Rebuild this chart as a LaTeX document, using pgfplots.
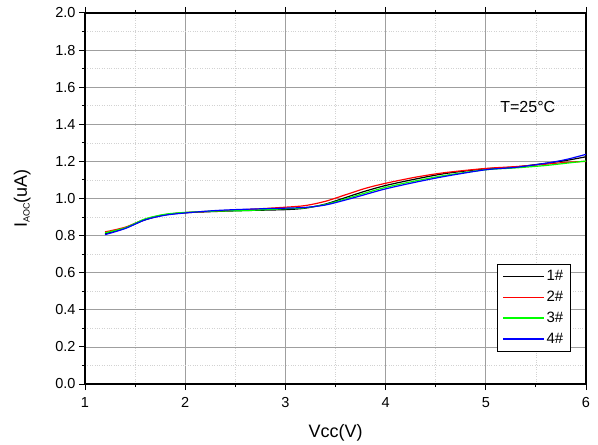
\documentclass[border=0pt]{standalone}
\usepackage{fontspec}
\setmainfont{Liberation Sans}
\usepackage{pgfplots}
\pgfplotsset{compat=1.18}
\begin{document}
\begin{tikzpicture}
\begin{axis}[
  scale only axis, width=501bp, height=371bp,
  xmin=1, xmax=6, ymin=0, ymax=2.0,
  xtick={1,2,3,4,5,6}, ytick={0,0.2,...,2.0},
  minor x tick num=1, minor y tick num=1,
  yticklabel style={/pgf/number format/.cd, fixed, fixed zerofill, precision=1},
  /pgf/number format/assume math mode=true,
  tick label style={font=\fontsize{14.5bp}{16bp}\selectfont},
  xticklabel style={yshift=-4bp},
  label style={font=\fontsize{18bp}{20bp}\selectfont},
  xlabel={Vcc(V)}, ylabel={I\raisebox{-0.3ex}{\fontsize{9bp}{10bp}\selectfont AOC}(uA)},
  xlabel style={yshift=-10bp}, ylabel style={yshift=18bp},
  tick align=outside, xtick pos=both, ytick pos=left,
  major tick length=6bp, minor tick length=3bp,
  every tick/.style={black, line width=1pt},
  axis line style={black, line width=1.5pt},
  grid=both,
  major grid style={gray!75, line width=0.7pt},
  minor grid style={gray!35, dotted, line width=0.6pt},
  legend style={at={(0.969,0.323)}, anchor=north east,
    font=\fontsize{15bp}{17bp}\selectfont, row sep=5bp, inner xsep=5bp, inner ysep=4bp},
  legend cell align=left,
  legend image post style={xscale=2.4},
]
\addplot[color=black, line width=1.2pt, smooth] coordinates {(1.2,0.810) (1.4,0.840) (1.6,0.885) (1.8,0.912) (2.0,0.923) (2.3,0.930) (2.6,0.935) (3.0,0.940) (3.2,0.948) (3.4,0.970) (3.6,1.005) (3.8,1.040) (4.0,1.070) (4.3,1.105) (4.6,1.135) (5.0,1.160) (5.3,1.170) (5.6,1.190) (5.8,1.205) (6.0,1.225)};
\addlegendentry{1\#}
\addplot[color=red, line width=1.2pt, smooth] coordinates {(1.2,0.820) (1.4,0.845) (1.6,0.888) (1.8,0.913) (2.0,0.924) (2.3,0.932) (2.6,0.940) (3.0,0.953) (3.2,0.962) (3.4,0.985) (3.6,1.020) (3.8,1.055) (4.0,1.082) (4.3,1.115) (4.6,1.140) (5.0,1.162) (5.3,1.172) (5.6,1.185) (5.8,1.195) (6.0,1.200)};
\addlegendentry{2\#}
\addplot[color=green, line width=1.2pt, smooth] coordinates {(1.2,0.815) (1.4,0.842) (1.6,0.890) (1.8,0.915) (2.0,0.925) (2.3,0.932) (2.6,0.935) (3.0,0.945) (3.2,0.950) (3.4,0.968) (3.6,0.998) (3.8,1.030) (4.0,1.060) (4.3,1.095) (4.6,1.125) (5.0,1.155) (5.3,1.165) (5.6,1.178) (5.8,1.190) (6.0,1.202)};
\addlegendentry{3\#}
\addplot[color=blue, line width=1.2pt, smooth] coordinates {(1.2,0.805) (1.4,0.838) (1.6,0.885) (1.8,0.910) (2.0,0.922) (2.3,0.935) (2.6,0.942) (3.0,0.948) (3.2,0.952) (3.4,0.965) (3.6,0.992) (3.8,1.022) (4.0,1.052) (4.3,1.088) (4.6,1.120) (5.0,1.155) (5.3,1.168) (5.6,1.190) (5.8,1.210) (6.0,1.238)};
\addlegendentry{4\#}
\node[anchor=west, font=\fontsize{16bp}{18bp}\selectfont] at (axis cs:5.11,1.493) {T=25°C};
\end{axis}
\pgfresetboundingbox
\path[use as bounding box] (-85bp,-61bp) rectangle (513bp,384bp);
\end{tikzpicture}
\end{document}
